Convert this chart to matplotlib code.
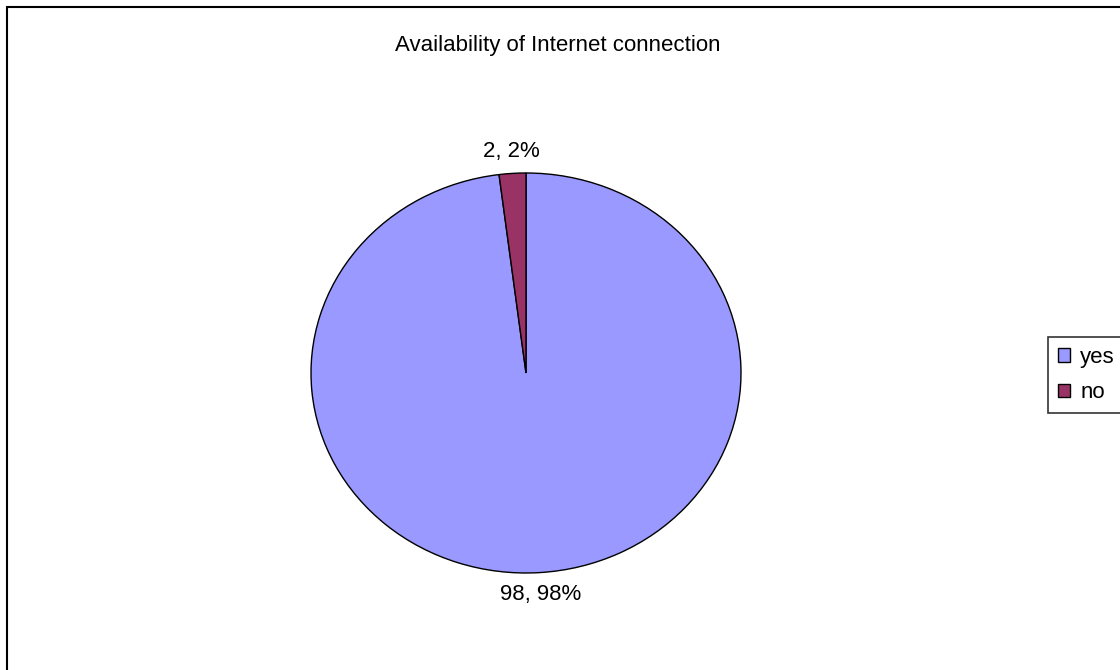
import matplotlib.pyplot as plt
from matplotlib.patches import Rectangle

plt.rcParams['font.family'] = ['Liberation Sans', 'DejaVu Sans']

title = 'Availability of Internet connection'
labels = ['yes', 'no']
counts = [98, 2]
percents = [98, 2]
colors = ['#9999FF', '#993366']

fig = plt.figure(figsize=(11.2, 6.7), dpi=100)

# outer chart border (runs off the right and bottom edges)
fig.patches.append(Rectangle((7 / 1120, -0.05), 1.1, 1 - 7 / 670 + 0.05,
                             transform=fig.transFigure, fill=False,
                             edgecolor='black', linewidth=1.5, zorder=0))

fig.text(558 / 1120, 1 - 46 / 670, title, ha='center', va='center', fontsize=16)

# stretched pie: axes box sized to the ellipse, aspect left free
ax = fig.add_axes([311 / 1120, 1 - 573 / 670, 430 / 1120, 400 / 670])
wedges, texts = ax.pie(counts, colors=colors, startangle=90, counterclock=False,
                       labels=[f'{c}, {p}%' for c, p in zip(counts, percents)],
                       labeldistance=1.11,
                       wedgeprops=dict(edgecolor='black', linewidth=1.0),
                       textprops=dict(fontsize=16))
for t in texts:
    t.set_ha('center')
    t.set_va('center')
ax.set_aspect('auto')
ax.set_xlim(-1, 1)
ax.set_ylim(-1, 1)

leg = fig.legend(wedges, labels, loc='upper left',
                 bbox_to_anchor=(1048 / 1120, 1 - 337 / 670),
                 fontsize=16, frameon=True, fancybox=False,
                 handlelength=0.55, handleheight=0.55, handletextpad=0.45,
                 labelspacing=0.65, borderpad=0.45, borderaxespad=0)
leg.get_frame().set_edgecolor('black')
leg.get_frame().set_linewidth(1.2)

fig.savefig('out.png', dpi=100)
